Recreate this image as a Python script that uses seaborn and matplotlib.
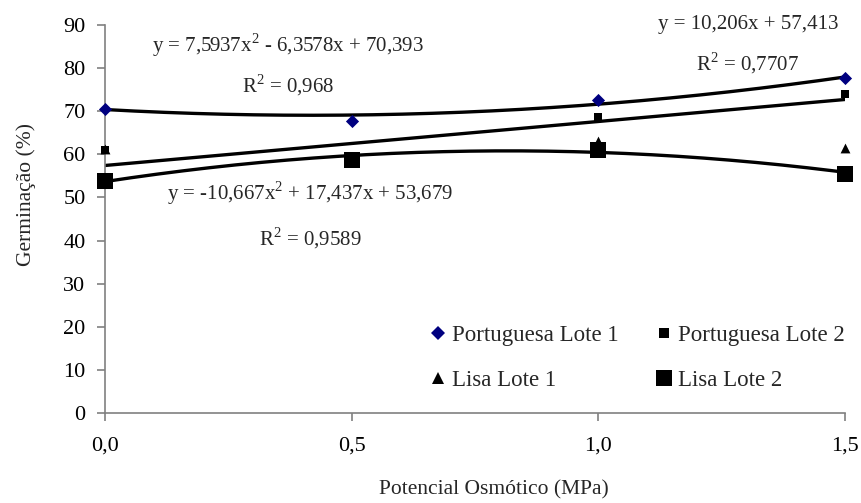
import numpy as np
import pandas as pd
import matplotlib
matplotlib.use("Agg")
import matplotlib.pyplot as plt
import seaborn as sns
from matplotlib.lines import Line2D

# ---- data ----
potencial = [0.0, 0.5, 1.0, 1.5]
portuguesa_lote1 = [70.6, 67.8, 72.7, 77.6]
portuguesa_lote2 = [61.0, 58.0, 68.6, 74.0]
lisa_lote1 = [61.2, 59.0, 63.2, 61.4]
lisa_lote2 = [53.8, 58.8, 61.0, 55.4]

series_names = ["Portuguesa Lote 1", "Portuguesa Lote 2", "Lisa Lote 1", "Lisa Lote 2"]

# trendline coefficients (highest power first) as printed on the chart
coef_port1 = [7.5937, -6.3578, 70.393]
coef_port2 = [10.206, 57.413]
coef_lisa2 = [-10.667, 17.437, 53.679]

eq_port1 = "y = 7,5937x$^{2}$ - 6,3578x + 70,393"
r2_port1 = "R$^{2}$ = 0,968"
eq_port2 = "y = 10,206x + 57,413"
r2_port2 = "R$^{2}$ = 0,7707"
eq_lisa2 = "y = -10,667x$^{2}$ + 17,437x + 53,679"
r2_lisa2 = "R$^{2}$ = 0,9589"

x_ticks = [0.0, 0.5, 1.0, 1.5]
x_ticklabels = ["0,0", "0,5", "1,0", "1,5"]
y_ticks = list(range(0, 91, 10))

# ---- build tables ----
df = pd.DataFrame({
    "x": potencial * 4,
    "y": portuguesa_lote1 + portuguesa_lote2 + lisa_lote1 + lisa_lote2,
    "serie": sum([[n] * 4 for n in series_names], []),
})

xs = np.linspace(0, 1.5, 200)
trend = pd.DataFrame({
    "x": np.concatenate([xs, xs, xs]),
    "y": np.concatenate([np.polyval(coef_port1, xs), np.polyval(coef_port2, xs), np.polyval(coef_lisa2, xs)]),
    "fit": ["p1"] * len(xs) + ["p2"] * len(xs) + ["l2"] * len(xs),
})

sns.set_style("ticks")
plt.rcParams["font.family"] = ["Liberation Serif", "DejaVu Serif"]
plt.rcParams["mathtext.fontset"] = "custom"
plt.rcParams["mathtext.rm"] = "Liberation Serif"

fig = plt.figure(figsize=(8.61, 5.03), dpi=100)
ax = fig.add_axes([105 / 861, 1 - 413 / 503, 740 / 861, 388 / 503])

sns.lineplot(data=trend, x="x", y="y", units="fit", estimator=None, color="black",
             linewidth=2.4, ax=ax, legend=False, zorder=2)

colors = {"Portuguesa Lote 1": "#000080", "Portuguesa Lote 2": "black",
          "Lisa Lote 1": "black", "Lisa Lote 2": "black"}
markers = {"Portuguesa Lote 1": "D", "Portuguesa Lote 2": "s",
           "Lisa Lote 1": "^", "Lisa Lote 2": "s"}
sizes = {"Portuguesa Lote 1": 45, "Portuguesa Lote 2": 36,
         "Lisa Lote 1": 50, "Lisa Lote 2": 135}
legend_ms = {"Portuguesa Lote 1": 7, "Portuguesa Lote 2": 6.5,
             "Lisa Lote 1": 8, "Lisa Lote 2": 11}

for name in ["Lisa Lote 1", "Portuguesa Lote 2", "Lisa Lote 2", "Portuguesa Lote 1"]:
    sub = df[df["serie"] == name]
    sns.scatterplot(data=sub, x="x", y="y", color=colors[name], marker=markers[name],
                    s=sizes[name], edgecolor=colors[name], linewidth=0, ax=ax,
                    zorder=3, clip_on=False)

ax.set_xlim(0, 1.5)
ax.set_ylim(0, 90)
ax.set_xticks(x_ticks)
ax.set_xticklabels(x_ticklabels)
ax.set_yticks(y_ticks)
sns.despine(ax=ax)
for s in ["left", "bottom"]:
    ax.spines[s].set_color("#808080")
    ax.spines[s].set_linewidth(1.2)
ax.tick_params(axis="both", colors="#808080", labelcolor="black", length=6, width=1.2,
               labelsize=16)
ax.tick_params(axis="x", pad=11)
ax.tick_params(axis="y", pad=8)

ax.set_xlabel("Potencial Osmótico (MPa)", fontsize=15.5)
ax.set_ylabel("Germinação (%)", fontsize=15.5)
ax.xaxis.set_label_coords((494 - 105) / 740, -0.172)
ax.yaxis.set_label_coords(-0.093, 0.562)

# equations
fs = 15
ax.text(0.371, 85.4, eq_port1, ha="center", va="center", fontsize=fs)
ax.text(0.371, 76.1, r2_port1, ha="center", va="center", fontsize=fs)
ax.text(1.303, 90.0, eq_port2, ha="center", va="center", fontsize=fs)
ax.text(1.303, 81.2, r2_port2, ha="center", va="center", fontsize=fs)
ax.text(0.416, 51.0, eq_lisa2, ha="center", va="center", fontsize=fs)
ax.text(0.416, 40.6, r2_lisa2, ha="center", va="center", fontsize=fs)

# legend (row 1: Portuguesa 1, Portuguesa 2; row 2: Lisa 1, Lisa 2)
def h(name):
    return Line2D([], [], linestyle="none", marker=markers[name], color=colors[name],
                  markersize=legend_ms[name], markeredgewidth=0)

order = ["Portuguesa Lote 1", "Lisa Lote 1", "Portuguesa Lote 2", "Lisa Lote 2"]
ax.legend([h(n) for n in order], order, ncol=2, frameon=False, fontsize=16.5,
          loc="center left", bbox_to_anchor=((422 - 105) / 740, (413 - 358) / 388),
          handlelength=0.6, handletextpad=0.3, columnspacing=1.7, labelspacing=1.05,
          borderaxespad=0)

fig.savefig("out.png", dpi=100)
